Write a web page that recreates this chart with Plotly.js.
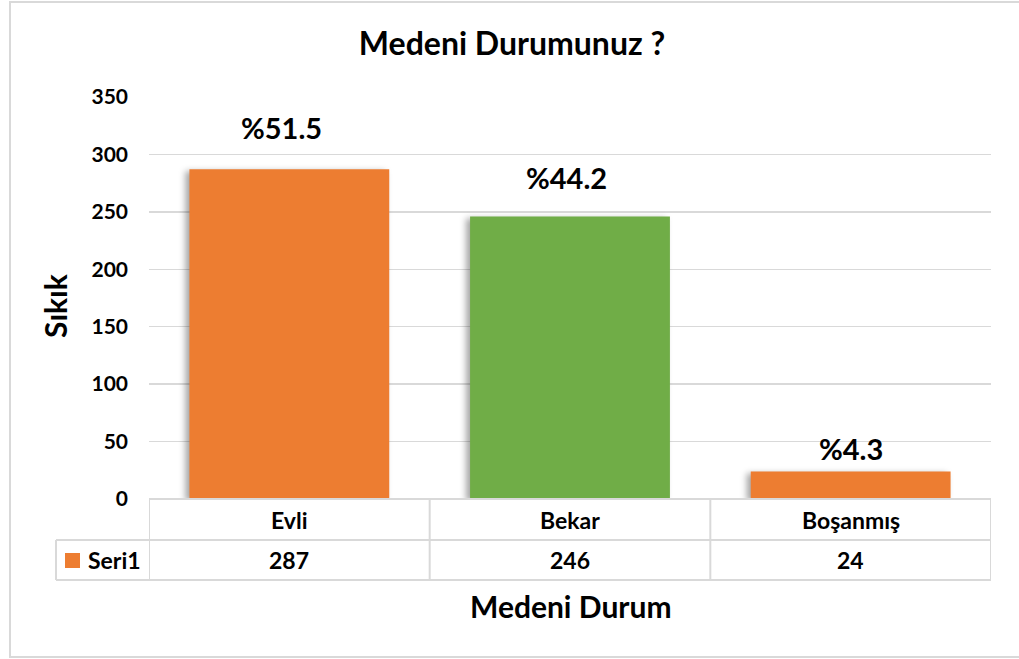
<!DOCTYPE html>
<html>
<head>
<meta charset="utf-8">
<script src="https://cdn.plot.ly/plotly-3.0.1.min.js"></script>
<style>
  html, body { margin: 0; padding: 0; background: #fff; }
  #chart { width: 1019px; height: 659px; }
  #chart .trace.bars .point path { filter: drop-shadow(-4px 2px 3px rgba(0,0,0,0.35)); }
</style>
</head>
<body>
<div id="chart"></div>
<script>
// ---- data ----
const categories = ['Evli', 'Bekar', 'Boşanmış'];
const values = [287, 246, 24];
const percentLabels = ['%51.5', '%44.2', '%4.3'];
const seriesName = 'Seri1';
const yTickValues = [0, 50, 100, 150, 200, 250, 300, 350];

// ---- style ----
const ORANGE = '#ED7D31';
const GREEN = '#70AD47';
const barColors = [ORANGE, GREEN, ORANGE];
const GRID = '#d9d9d9';
const FONT = 'Lato, "Open Sans", sans-serif';
const labelShift = [22, 19, 3];
const labelXShift = [-8, -4, 0];

// plot area in pixels: x 149..991, y 97..499
const W = 1019, H = 659;
const L = 149, R = 991, T = 97, B = 499;
const pw = R - L, ph = B - T;
const px = x => (x - L) / pw;     // pixel x -> paper
const py = y => (B - y) / ph;     // pixel y -> paper

const trace = {
  type: 'bar',
  x: categories,
  y: values,
  name: seriesName,
  marker: { color: barColors, line: { width: 0 } },
  hoverinfo: 'x+y',
  showlegend: false
};

const annotations = [];
// percent labels above bars
categories.forEach((c, i) => {
  annotations.push({
    x: c, y: values[i], xref: 'x', yref: 'y',
    text: percentLabels[i], showarrow: false,
    yanchor: 'bottom', yshift: labelShift[i], xshift: labelXShift[i],
    font: { family: FONT, size: 29, color: '#000', weight: 'bold' }
  });
});
// data table: category row and value row
const rowCat = py(520), rowVal = py(560);
const tableFont = { family: FONT, size: 23, color: '#000', weight: 'bold' };
categories.forEach((c, i) => {
  annotations.push({
    x: c, y: rowCat, xref: 'x', yref: 'paper', text: c, showarrow: false,
    yanchor: 'middle', font: tableFont
  });
  annotations.push({
    x: c, y: rowVal, xref: 'x', yref: 'paper', text: String(values[i]), showarrow: false,
    yanchor: 'middle', font: tableFont
  });
});
annotations.push({
  x: px(86), y: rowVal, xref: 'paper', yref: 'paper', text: seriesName, showarrow: false,
  xanchor: 'left', yanchor: 'middle', font: tableFont
});
// axis titles
annotations.push({
  x: px(571), y: py(606), xref: 'paper', yref: 'paper', text: 'Medeni Durum', showarrow: false,
  xanchor: 'center', yanchor: 'middle', font: { family: FONT, size: 30, color: '#000', weight: 'bold' }
});
annotations.push({
  x: px(55), y: py(306), xref: 'paper', yref: 'paper', text: 'Sıkık', showarrow: false,
  textangle: -90, xanchor: 'center', yanchor: 'middle', font: { family: FONT, size: 30, color: '#000', weight: 'bold' }
});

const line = { color: GRID, width: 2 };
const shapes = [
  // outer chart frame
  { type: 'rect', xref: 'paper', yref: 'paper', x0: px(10), x1: px(1030), y0: py(657), y1: py(2), line: line },
  // table horizontals
  { type: 'line', xref: 'paper', yref: 'paper', x0: 0, x1: 1, y0: 0, y1: 0, line: line },
  { type: 'line', xref: 'paper', yref: 'paper', x0: px(56), x1: 1, y0: py(540), y1: py(540), line: line },
  { type: 'line', xref: 'paper', yref: 'paper', x0: px(56), x1: 1, y0: py(580), y1: py(580), line: line },
  // left header column
  { type: 'line', xref: 'paper', yref: 'paper', x0: px(56), x1: px(56), y0: py(540), y1: py(580), line: line },
  // legend key
  { type: 'rect', xref: 'paper', yref: 'paper', x0: px(65), x1: px(80), y0: py(568), y1: py(553),
    fillcolor: ORANGE, line: { width: 0 } }
];
// vertical table lines at category boundaries
[-0.5, 0.5, 1.5, 2.5].forEach(b => {
  shapes.push({ type: 'line', xref: 'x', yref: 'paper', x0: b, x1: b, y0: 0, y1: py(580), line: line });
});

const layout = {
  width: W, height: H,
  margin: { l: L, r: W - R, t: T, b: H - B, pad: 0 },
  paper_bgcolor: '#fff', plot_bgcolor: '#fff',
  font: { family: FONT, color: '#000' },
  title: {
    text: 'Medeni Durumunuz ?',
    x: 512 / W, xref: 'container', xanchor: 'center',
    y: 1 - 44 / H, yref: 'container', yanchor: 'middle',
    font: { family: FONT, size: 32, color: '#000', weight: 'bold' }
  },
  bargap: 0.288,
  xaxis: {
    type: 'category', range: [-0.5, 2.5],
    showticklabels: false, showgrid: false, zeroline: false, showline: false, ticks: ''
  },
  yaxis: {
    range: [0, 350], tickvals: yTickValues, ticktext: yTickValues.map(String),
    showgrid: true, gridcolor: GRID, gridwidth: 1.5,
    zeroline: false, showline: false, ticks: '',
    ticklabelstandoff: 20,
    tickfont: { family: FONT, size: 21, color: '#000', weight: 'bold' }
  },
  annotations: annotations,
  shapes: shapes,
  showlegend: false
};

Plotly.newPlot('chart', [trace], layout, { displayModeBar: false, staticPlot: true });
</script>
</body>
</html>
